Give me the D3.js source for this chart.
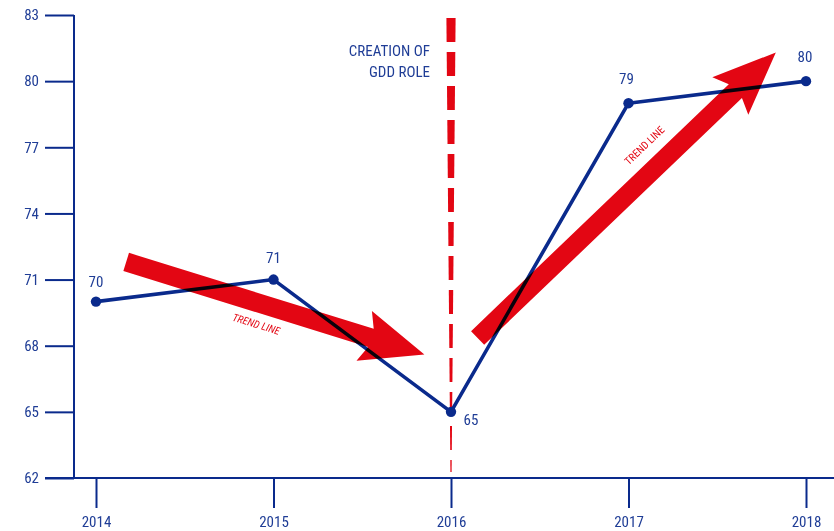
<!DOCTYPE html>
<html><head><meta charset="utf-8">
<script src="https://cdn.jsdelivr.net/npm/d3@7"></script>
<style>
html,body{margin:0;padding:0;background:#fff;}
svg{display:block;}
text{font-family:"Liberation Sans Narrow","Roboto Condensed","Arial Narrow","Liberation Sans",sans-serif;}
</style>
</head><body>
<svg id="chart" width="834" height="531"></svg>
<script>
const years = [2014, 2015, 2016, 2017, 2018];
const values = [70, 71, 65, 79, 80];
const yTicks = [62, 65, 68, 71, 74, 77, 80, 83];
const markerYear = 2016;
const markerLabel = ["CREATION OF", "GDD ROLE"];
// trend arrows: [tailYear, tailValue, tipYear, tipValue]
const trendArrows = [
  [2014.17, 71.8, 2015.85, 67.6],
  [2016.15, 68.35, 2017.83, 81.3]
];
const trendLabel = "TREND LINE";

const blue = "#0a2a8c", textBlue = "#1f3d96", red = "#e30613";
const svg = d3.select("#chart");
const x = d3.scaleLinear().domain([2014, 2018]).range([96, 806]);
const y = d3.scaleLinear().domain([62, 83]).range([478, 15]);
const axisX = 74;

// Y axis
const yAxis = d3.axisLeft(y).tickValues(yTicks).tickSize(29).tickPadding(6).tickFormat(d3.format("d"));
const gy = svg.append("g").attr("transform", `translate(${axisX},0)`).call(yAxis);
gy.select(".domain").attr("stroke", blue).attr("stroke-width", 2).attr("d", `M0,${y(83)}V${y(62)}`);
gy.selectAll(".tick line").attr("stroke", blue).attr("stroke-width", 2);
gy.selectAll(".tick text").attr("fill", textBlue).attr("font-size", 15).attr("font-family", null);

// X axis
const xAxis = d3.axisBottom(x).tickValues(years).tickSize(30).tickPadding(8).tickFormat(d3.format("d"));
const gx = svg.append("g").attr("transform", `translate(0,${y(62)})`).call(xAxis);
gx.select(".domain").attr("stroke", blue).attr("stroke-width", 2).attr("d", `M45,0H834`);
gx.selectAll(".tick line").attr("stroke", blue).attr("stroke-width", 2);
gx.selectAll(".tick text").attr("fill", textBlue).attr("font-size", 15).attr("font-family", null);

// Tapered dashed marker line
const mx = x(markerYear);
const defs = svg.append("defs");
defs.append("clipPath").attr("id", "taper").append("path")
  .attr("d", `M${mx-4.6},${y(83)+3}L${mx+4.6},${y(83)+3}L${mx+0.6},${y(62)-6}L${mx-0.6},${y(62)-6}Z`);
svg.append("line").attr("x1", mx).attr("x2", mx).attr("y1", y(83)+3).attr("y2", y(62)-6)
  .attr("stroke", red).attr("stroke-width", 12).attr("stroke-dasharray", "24,10")
  .attr("clip-path", "url(#taper)");

svg.append("text").attr("x", 430).attr("y", 56).attr("text-anchor", "end")
  .attr("fill", textBlue).attr("font-size", 15)
  .selectAll("tspan").data(markerLabel).join("tspan")
  .attr("x", 430).attr("dy", (d, i) => i ? 21 : 0).text(d => d);

// Data line
const pts = years.map((yr, i) => [x(yr), y(values[i])]);
svg.append("path").attr("d", d3.line()(pts)).attr("fill", "none")
  .attr("stroke", blue).attr("stroke-width", 3.6).attr("stroke-linejoin", "round");
svg.selectAll("circle.pt").data(pts).join("circle").attr("class", "pt")
  .attr("cx", d => d[0]).attr("cy", d => d[1]).attr("r", 5.2).attr("fill", blue);

// Value labels
const labelOffsets = [[0, -19], [0, -21], [20, 9], [-2, -23], [-1, -23]];
svg.selectAll("text.val").data(values).join("text").attr("class", "val")
  .attr("x", (d, i) => pts[i][0] + labelOffsets[i][0])
  .attr("y", (d, i) => pts[i][1] + labelOffsets[i][1])
  .attr("text-anchor", "middle").attr("fill", textBlue).attr("font-size", 15)
  .attr("dominant-baseline", "middle")
  .text(d => d);

// Trend arrows
function arrowPath(t) {
  const [x0, y0, x1, y1] = [x(t[0]), y(t[1]), x(t[2]), y(t[3])];
  const dx = x1 - x0, dy = y1 - y0, L = Math.hypot(dx, dy);
  const ux = dx / L, uy = dy / L, px = -uy, py = ux;
  const sw = 9.5, hw = 26, hl = 63, notch = 7;
  const P = (a, b) => [x0 + ux * a + px * b, y0 + uy * a + py * b];
  const p = [P(0, -sw), P(L - hl + notch, -sw), P(L - hl, -hw), P(L, 0),
             P(L - hl, hw), P(L - hl + notch, sw), P(0, sw)];
  return "M" + p.map(q => q.join(",")).join("L") + "Z";
}
const ga = svg.append("g").style("mix-blend-mode", "multiply");
ga.selectAll("path").data(trendArrows).join("path").attr("d", arrowPath).attr("fill", red)
  .style("mix-blend-mode", "multiply");

// Trend labels
trendArrows.forEach((t, i) => {
  const [x0, y0, x1, y1] = [x(t[0]), y(t[1]), x(t[2]), y(t[3])];
  const ang = Math.atan2(y1 - y0, x1 - x0) * 180 / Math.PI;
  const pos = i === 0 ? [256, 325] : [645, 146];
  svg.append("text").attr("transform", `translate(${pos[0]},${pos[1]}) rotate(${ang})`)
    .attr("text-anchor", "middle").attr("dominant-baseline", "middle")
    .attr("fill", red).attr("font-size", 10.5).attr("font-style", i === 0 ? "italic" : "normal")
    .text(trendLabel);
});
</script>
</body></html>
